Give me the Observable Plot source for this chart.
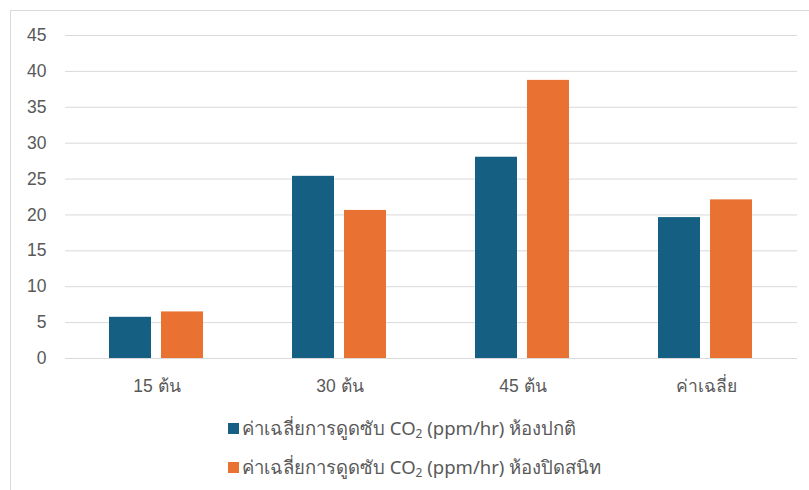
<!DOCTYPE html>
<html>
<head>
<meta charset="utf-8">
<script src="https://cdn.jsdelivr.net/npm/d3@7"></script>
<script src="https://cdn.jsdelivr.net/npm/@observablehq/plot@0.6"></script>
<style>
  html, body { margin: 0; padding: 0; background: #fff; }
  body { width: 809px; height: 490px; overflow: hidden; position: relative;
         font-family: "Liberation Sans", "Noto Sans", sans-serif; }
  #frame { position: absolute; left: 10px; top: 10px; width: 830px; height: 520px;
           border: 1px solid #d9d9d9; box-sizing: border-box; pointer-events: none; }
  #chart { position: relative; }
  #legend { position: relative; padding-top: 9px; margin-left: 228px; color: #595959; font-size: 18.5px;
            font-family: "Noto Sans", "Liberation Sans", sans-serif; }
  .item { height: 39px; display: flex; align-items: center; }
  .sw { width: 11px; height: 11px; margin-right: 3px; flex: none; }
  sub { font-size: 12px; vertical-align: -3px; line-height: 0; }
</style>
</head>
<body>
<div id="frame"></div>
<div id="chart"></div>
<div id="legend"></div>
<script>
const categories = ["15 ต้น", "30 ต้น", "45 ต้น", "ค่าเฉลี่ย"];
const seriesNames = [
  "ค่าเฉลี่ยการดูดซับ CO2 (ppm/hr) ห้องปกติ",
  "ค่าเฉลี่ยการดูดซับ CO2 (ppm/hr) ห้องปิดสนิท"
];
const seriesLabelsHtml = [
  "ค่าเฉลี่ยการดูดซับ CO<sub>2</sub> (ppm/hr) ห้องปกติ",
  "ค่าเฉลี่ยการดูดซับ CO<sub>2</sub> (ppm/hr) ห้องปิดสนิท"
];
const normalRoom = [5.74, 25.38, 28.04, 19.63];
const sealedRoom = [6.49, 20.63, 38.75, 22.1];
const yTicks = [0, 5, 10, 15, 20, 25, 30, 35, 40, 45];
const colors = ["#156082", "#E97132"];

const data = [];
categories.forEach((c, i) => {
  data.push({category: c, series: seriesNames[0], value: normalRoom[i]});
  data.push({category: c, series: seriesNames[1], value: sealedRoom[i]});
});

const chart = Plot.plot({
  width: 809,
  height: 400,
  marginTop: 35,
  marginBottom: 42,
  marginLeft: 64,
  marginRight: 12,
  style: {fontFamily: "'Liberation Sans', 'Noto Sans', sans-serif", fontSize: "17.5px", color: "#595959", background: "transparent"},
  fx: {domain: categories, padding: 0, axis: "bottom", label: null, tickSize: 0, tickPadding: 21},
  x: {domain: seriesNames, paddingInner: 0.19, paddingOuter: 0.85, axis: null},
  y: {domain: [0, 45], ticks: yTicks, label: null, tickSize: 0, tickPadding: 19},
  color: {domain: seriesNames, range: colors},
  marks: [
    Plot.gridY(yTicks, {stroke: "#d9d9d9", strokeOpacity: 1, strokeWidth: 1}),
    Plot.barY(data, {fx: "category", x: "series", y: "value", fill: "series"}),
    Plot.ruleY([0], {stroke: "#d9d9d9", strokeWidth: 1})
  ]
});
document.getElementById("chart").appendChild(chart);

const legend = document.getElementById("legend");
seriesNames.forEach((s, i) => {
  const row = document.createElement("div");
  row.className = "item";
  row.innerHTML = `<span class="sw" style="background:${colors[i]}"></span><span>${seriesLabelsHtml[i]}</span>`;
  legend.appendChild(row);
});
</script>
</body>
</html>
